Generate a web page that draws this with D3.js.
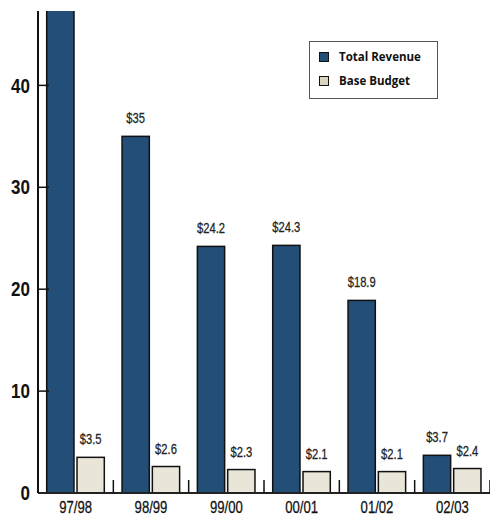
<!DOCTYPE html>
<html><head><meta charset="utf-8">
<script src="https://cdn.jsdelivr.net/npm/d3@7"></script>
<style>body{margin:0;background:#fff}</style>
</head><body>
<svg id="c" width="490" height="517"></svg>
<script>
const categories = ["97/98","98/99","99/00","00/01","01/02","02/03"];
const totalRevenue = [50, 35, 24.2, 24.3, 18.9, 3.7];
const baseBudget = [3.5, 2.6, 2.3, 2.1, 2.1, 2.4];
const yTicks = [0, 10, 20, 30, 40];
const seriesNames = ["Total Revenue", "Base Budget"];
const colors = ["#234e78", "#e9e6d9"];
const legendColors = ["#234e78", "#d9d4bd"];

(function(){
const svg = d3.select("#c");
const pl = 38, pr = 490, pt = 11, pb = 493;
const yMax = 47.3;
const fam = "'Liberation Sans',Arial,sans-serif";
const cond = (sel, px, py, sx) => sel.attr("transform", d => `translate(${px(d)},${py(d)}) scale(${sx},1)`);

const y = d3.scaleLinear().domain([0, yMax]).range([pb, pt]);
const x = d3.scaleBand().domain(categories).range([pl, pr]).padding(0);
const inner = d3.scaleBand().domain([0,1]).range([8.7, 8.7+57.6]).paddingInner(0.1);

svg.append("clipPath").attr("id","clip").append("rect")
  .attr("x", pl).attr("y", pt).attr("width", pr-pl).attr("height", pb-pt);

const data = [];
categories.forEach((c,i)=>{
  data.push({c, s:0, v: totalRevenue[i]});
  data.push({c, s:1, v: baseBudget[i]});
});

const g = svg.append("g").attr("clip-path","url(#clip)");
g.selectAll("rect.bar").data(data).join("rect")
  .attr("class","bar")
  .attr("x", d => x(d.c) + inner(d.s))
  .attr("width", inner.bandwidth())
  .attr("y", d => y(Math.min(d.v, yMax)) - (d.v > yMax ? 5 : 0))
  .attr("height", d => pb - y(Math.min(d.v,yMax)) + (d.v > yMax ? 5 : 0))
  .attr("fill", d => colors[d.s])
  .attr("stroke", "#111").attr("stroke-width", 1.5);

cond(svg.selectAll("text.val").data(data.filter(d => d.v <= 45)).join("text")
  .attr("class","val")
  .attr("text-anchor","middle")
  .attr("font-family", fam).attr("font-size", 14).attr("fill","#222")
  .attr("stroke","#222").attr("stroke-width",0.25)
  .text(d => "$" + d.v),
  d => x(d.c) + inner(d.s) + inner.bandwidth()/2, d => y(d.v) - 13, 0.8);

// y axis
svg.append("line").attr("x1", pl).attr("x2", pl).attr("y1", pt).attr("y2", pb)
  .attr("stroke","#111").attr("stroke-width",2);
const yt = svg.append("g");
yt.selectAll("line").data(yTicks.filter(t=>t>0)).join("line")
  .attr("x1", pl).attr("x2", pl+11).attr("y1", d=>y(d)).attr("y2", d=>y(d))
  .attr("stroke","#111").attr("stroke-width",1.5);
cond(yt.selectAll("text").data(yTicks).join("text")
  .attr("dy","0.36em")
  .attr("text-anchor","end")
  .attr("font-family", fam).attr("font-weight","bold").attr("font-size", 20).attr("fill","#111")
  .text(d=>d), d=>30, d=>y(d), 0.85);

// baseline
svg.append("line").attr("x1", pl).attr("x2", pr).attr("y1", pb).attr("y2", pb)
  .attr("stroke","#222").attr("stroke-width",2);
svg.selectAll("line.sep").data(categories).join("line").attr("class","sep")
  .attr("x1", d=>x(d)+x.bandwidth()).attr("x2", d=>x(d)+x.bandwidth())
  .attr("y1", pb).attr("y2", pb-13)
  .attr("stroke","#111").attr("stroke-width",1.5);
cond(svg.selectAll("text.cat").data(categories).join("text").attr("class","cat")
  .attr("text-anchor","middle")
  .attr("font-family", fam).attr("font-size", 16).attr("fill","#111")
  .attr("stroke","#111").attr("stroke-width",0.25)
  .text(d=>d), d=>x(d)+x.bandwidth()/2, d=>513, 0.82);

// legend
const lg = svg.append("g");
lg.append("rect").attr("x",309.5).attr("y",41.5).attr("width",128).attr("height",57)
  .attr("fill","#fff").attr("stroke","#555").attr("stroke-width",1);
seriesNames.forEach((n,i)=>{
  const cy = 57 + i*24;
  lg.append("rect").attr("x",319.5).attr("y",cy-4.5).attr("width",9).attr("height",9)
    .attr("fill",legendColors[i]).attr("stroke","#111").attr("stroke-width",1);
  lg.append("text").attr("x",339).attr("y",cy).attr("dy","0.36em")
    .attr("font-family","'Open Sans',sans-serif").attr("font-weight","bold").attr("font-size",11.5)
    .attr("fill","#111").text(n);
});
})();
</script>
</body></html>
